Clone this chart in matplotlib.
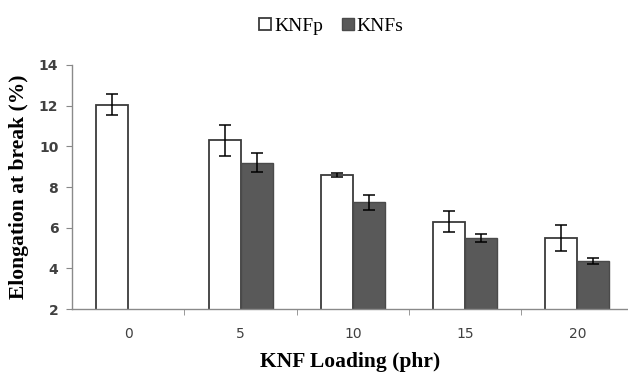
import numpy as np
import matplotlib
matplotlib.use("Agg")
import matplotlib.pyplot as plt
from matplotlib.ticker import FixedLocator

# data
loading = ["0", "5", "10", "15", "20"]
knfp = [12.05, 10.3, 8.6, 6.3, 5.5]
knfp_err = [0.5, 0.75, 0.1, 0.5, 0.63]
knfs = [np.nan, 9.2, 7.25, 5.5, 4.38]
knfs_err = [np.nan, 0.47, 0.38, 0.2, 0.14]

fig = plt.figure(figsize=(6.28, 3.73), dpi=100)
ax = fig.add_axes([0.115, 0.171, 0.885, 0.655])

x = np.arange(len(loading))
w = 0.285
edge = "#3a3a3a"
ax.bar(x - w/2, knfp, w, color="white", edgecolor=edge, linewidth=1.3, label="KNFp", zorder=2)
ax.bar(x + w/2, knfs, w, color="#595959", edgecolor="#4a4a4a", linewidth=1.0, label="KNFs", zorder=2)
ax.errorbar(x - w/2, knfp, yerr=knfp_err, fmt="none", ecolor="black", elinewidth=1.1, capsize=4, capthick=1.1, zorder=3)
ax.errorbar(x + w/2, knfs, yerr=knfs_err, fmt="none", ecolor="black", elinewidth=1.1, capsize=4, capthick=1.1, zorder=3)

ax.set_ylim(2, 14)
ax.set_yticks(range(2, 15, 2))
ax.set_xlim(-0.5, 4.45)
ax.set_xticks(x)
ax.set_xticklabels(loading)
ax.xaxis.set_minor_locator(FixedLocator([0.5, 1.5, 2.5, 3.5]))
ax.tick_params(axis="x", which="major", length=0, pad=13, labelsize=10, labelcolor="#404040")
ax.tick_params(axis="x", which="minor", length=4, color="#888888", direction="out")
ax.tick_params(axis="y", length=4, color="#888888", labelsize=10, labelcolor="#404040", pad=6)
for t in ax.get_yticklabels():
    t.set_fontweight("bold")

for s in ["top", "right"]:
    ax.spines[s].set_visible(False)
for s in ["left", "bottom"]:
    ax.spines[s].set_color("#8a8a8a")
    ax.spines[s].set_linewidth(1.0)

ax.set_ylabel("Elongation at break (%)", family="Liberation Serif", fontweight="bold", fontsize=15.5, labelpad=7)
ax.set_xlabel("KNF Loading (phr)", family="Liberation Serif", fontweight="bold", fontsize=15.5, labelpad=8)

fig.legend(loc="center", bbox_to_anchor=(0.528, 0.93), ncol=2, frameon=False,
           prop={"family": "Liberation Serif", "size": 14},
           handlelength=0.6, handleheight=0.6, handletextpad=0.15, columnspacing=1.0)

fig.savefig("out.png", dpi=100)
